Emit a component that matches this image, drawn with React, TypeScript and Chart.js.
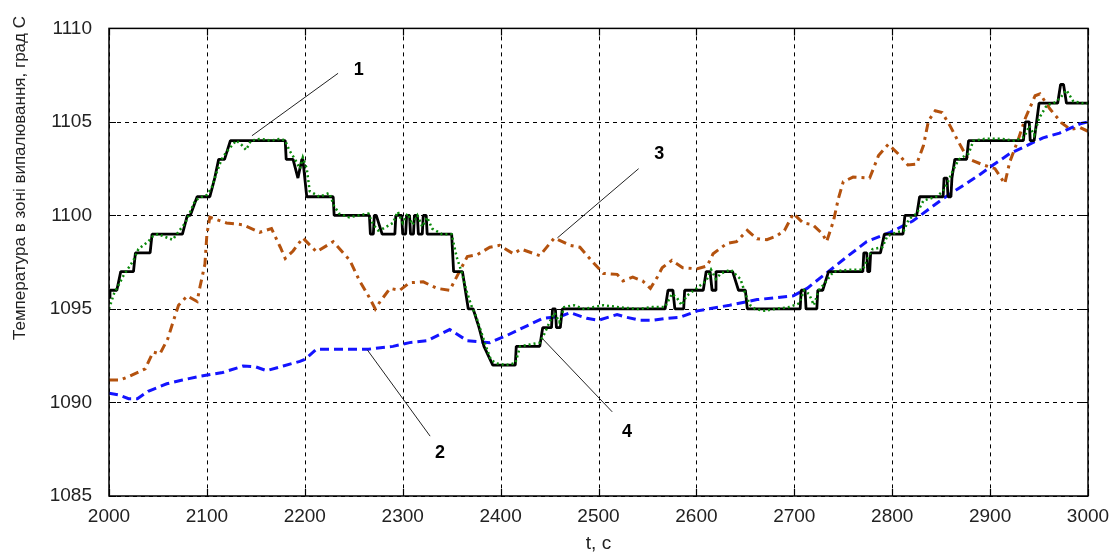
import React, { useEffect, useRef } from "react";
import { Chart, registerables } from "chart.js";

Chart.register(...registerables);

// Axis ranges / tick spacing
const xRange = [2000, 3000];
const yRange = [1085, 1110];
const xStep = 100;
const yStep = 5;

const xTitle = "t, c";
const yTitle = "Температура в зоні випалювання, град С";

// Series 1: black step line [t, value]
const series1: [number, number][] = [
  [2000, 1095.6], [2001, 1096], [2008, 1096], [2012, 1097], [2025, 1097], [2027, 1098], [2042, 1098],
  [2044, 1099], [2075, 1099], [2080, 1100], [2083, 1100], [2090, 1101], [2103, 1101], [2108, 1102],
  [2112, 1103], [2118, 1103], [2124, 1104], [2180, 1104], [2181, 1103], [2188, 1103], [2193, 1102],
  [2197, 1103], [2198, 1103], [2202, 1101], [2229, 1101], [2230, 1100], [2266, 1100], [2267, 1099],
  [2270, 1099], [2271, 1100], [2273, 1100], [2279, 1099], [2292, 1099], [2293, 1100], [2299, 1100],
  [2300, 1099], [2303, 1099], [2304, 1100], [2307, 1100], [2308, 1099], [2311, 1099], [2312, 1100],
  [2315, 1100], [2316, 1099], [2320, 1099], [2321, 1100], [2324, 1100], [2325, 1099], [2350, 1099],
  [2352, 1097], [2361, 1097], [2367, 1095], [2372, 1095], [2378, 1094], [2383, 1093], [2392, 1092],
  [2415, 1092], [2416, 1093], [2440, 1093], [2443, 1094], [2452, 1094], [2453, 1095], [2456, 1095],
  [2457, 1094], [2461, 1094], [2463, 1095], [2568, 1095], [2571, 1096], [2576, 1096], [2578, 1095],
  [2587, 1095], [2588, 1096], [2607, 1096], [2610, 1097], [2614, 1097], [2616, 1096], [2619, 1096],
  [2620, 1097], [2637, 1097], [2643, 1096], [2650, 1096], [2652, 1095], [2706, 1095], [2707, 1096],
  [2711, 1096], [2712, 1095], [2723, 1095], [2724, 1096], [2729, 1096], [2735, 1097], [2770, 1097],
  [2771, 1098], [2774, 1098], [2775, 1097], [2777, 1097], [2778, 1098], [2788, 1098], [2792, 1099],
  [2811, 1099], [2813, 1100], [2825, 1100], [2828, 1101], [2852, 1101], [2853, 1102], [2856, 1102],
  [2857, 1101], [2860, 1101], [2861, 1102], [2864, 1103], [2876, 1103], [2878, 1104], [2934, 1104],
  [2936, 1105], [2940, 1105], [2941, 1104], [2945, 1104], [2950, 1106], [2969, 1106], [2972, 1107],
  [2975, 1107], [2978, 1106], [3000, 1106],
];

// Series 2: blue dashed
const series2: [number, number][] = [
  [2000, 1090.5], [2010, 1090.4], [2020, 1090.2], [2029, 1090.2], [2040, 1090.6], [2059, 1091.0],
  [2075, 1091.2], [2093, 1091.4], [2116, 1091.6], [2137, 1091.95], [2150, 1091.9], [2161, 1091.7],
  [2178, 1091.95], [2195, 1092.2], [2200, 1092.3], [2212, 1092.85], [2240, 1092.85], [2265, 1092.85],
  [2290, 1093.0], [2307, 1093.2], [2325, 1093.3], [2348, 1093.9], [2366, 1093.3], [2389, 1093.2],
  [2407, 1093.6], [2427, 1094.1], [2443, 1094.5], [2461, 1094.6], [2471, 1094.8], [2488, 1094.5],
  [2500, 1094.4], [2519, 1094.7], [2529, 1094.55], [2542, 1094.4], [2556, 1094.4], [2570, 1094.5],
  [2583, 1094.55], [2601, 1094.9], [2634, 1095.2], [2662, 1095.5], [2699, 1095.7], [2713, 1096.1],
  [2736, 1097.05], [2754, 1097.8], [2774, 1098.6], [2798, 1099.1], [2821, 1099.7], [2852, 1100.9],
  [2890, 1102.2], [2903, 1102.7], [2920, 1103.3], [2938, 1103.75], [2954, 1104.15], [2971, 1104.4],
  [2992, 1104.9], [3000, 1105.0],
];

// Series 3: brown dash-dot
const series3: [number, number][] = [
  [2000, 1091.2], [2011, 1091.2], [2021, 1091.4], [2037, 1091.8], [2045, 1092.7], [2052, 1092.6],
  [2060, 1093.4], [2066, 1094.4], [2071, 1095.2], [2080, 1095.7], [2090, 1095.4], [2093, 1096.2],
  [2098, 1097.4], [2100, 1099.0], [2103, 1099.9], [2120, 1099.6], [2137, 1099.5], [2154, 1099.1],
  [2166, 1099.3], [2175, 1098.3], [2180, 1097.7], [2188, 1098.1], [2198, 1098.8], [2212, 1098.05],
  [2229, 1098.6], [2246, 1097.6], [2256, 1096.5], [2265, 1095.7], [2272, 1095.0], [2277, 1095.4],
  [2287, 1096.1], [2297, 1096.0], [2307, 1096.4], [2321, 1096.45], [2335, 1096.1], [2348, 1096.0],
  [2357, 1096.9], [2366, 1097.8], [2376, 1097.9], [2389, 1098.3], [2399, 1098.4], [2413, 1097.95],
  [2421, 1098.2], [2440, 1097.85], [2455, 1098.8], [2471, 1098.4], [2481, 1098.3], [2496, 1097.4],
  [2505, 1096.9], [2519, 1096.85], [2525, 1096.5], [2535, 1096.7], [2545, 1096.5], [2553, 1096.1],
  [2560, 1096.7], [2565, 1097.2], [2575, 1097.6], [2586, 1097.2], [2601, 1097.15], [2611, 1097.3],
  [2617, 1097.95], [2631, 1098.5], [2641, 1098.6], [2652, 1099.2], [2662, 1098.75], [2672, 1098.7],
  [2682, 1098.9], [2690, 1099.2], [2699, 1100.1], [2709, 1099.6], [2719, 1099.5], [2729, 1099.0],
  [2733, 1098.6], [2740, 1099.7], [2745, 1100.9], [2750, 1101.8], [2760, 1102.05], [2777, 1102.0],
  [2786, 1103.2], [2796, 1103.8], [2806, 1103.3], [2816, 1102.7], [2825, 1102.75], [2832, 1103.75],
  [2837, 1105.05], [2844, 1105.6], [2851, 1105.5], [2859, 1104.8], [2867, 1104.0], [2877, 1103.05],
  [2893, 1102.7], [2905, 1102.5], [2915, 1101.7], [2920, 1102.85], [2929, 1104.1], [2936, 1105.2],
  [2946, 1106.4], [2951, 1106.5], [2961, 1105.7], [2973, 1104.95], [2982, 1104.6], [2992, 1104.7],
  [3000, 1104.5],
];

// Series 4: green dotted
const series4: [number, number][] = [
  [2000, 1095], [2005, 1095.8], [2010, 1096.3], [2015, 1096.8], [2020, 1097.2], [2025, 1097.6],
  [2030, 1098.2], [2035, 1098.4], [2040, 1098.6], [2045, 1098.9], [2050, 1099], [2060, 1098.8],
  [2065, 1098.7], [2072, 1099.2], [2078, 1099.6], [2083, 1100.2], [2088, 1100.8], [2095, 1101],
  [2100, 1101.1], [2105, 1101.5], [2110, 1102.3], [2115, 1103], [2120, 1103.4], [2125, 1103.7],
  [2130, 1104], [2135, 1103.8], [2140, 1103.5], [2145, 1104], [2155, 1104.1], [2165, 1104],
  [2175, 1104.1], [2180, 1104], [2184, 1103.5], [2190, 1103], [2195, 1102.5], [2198, 1103.1],
  [2202, 1102.5], [2205, 1101.3], [2215, 1101], [2225, 1101.2], [2230, 1100.5], [2235, 1100.1],
  [2245, 1099.9], [2255, 1100], [2265, 1100.1], [2270, 1099.5], [2275, 1099.2], [2280, 1099.3],
  [2290, 1099.6], [2295, 1100.2], [2300, 1099.6], [2305, 1100.1], [2310, 1099.5], [2315, 1100],
  [2320, 1099.4], [2325, 1099.9], [2330, 1099.3], [2340, 1099], [2350, 1099], [2355, 1097.8],
  [2360, 1097], [2365, 1096], [2370, 1095.2], [2375, 1094.6], [2380, 1093.8], [2385, 1093],
  [2390, 1092.3], [2395, 1092.1], [2405, 1092], [2415, 1092.1], [2420, 1093], [2430, 1093.1],
  [2440, 1093.2], [2445, 1093.7], [2450, 1094.3], [2455, 1094.8], [2460, 1094.3], [2465, 1095.1],
  [2475, 1095.2], [2485, 1095], [2495, 1095.1], [2505, 1095.2], [2520, 1095.1], [2540, 1095],
  [2555, 1095.1], [2568, 1095.1], [2575, 1095.8], [2580, 1095.6], [2585, 1095.2], [2590, 1095.7],
  [2600, 1096.1], [2610, 1096.5], [2615, 1097.1], [2620, 1096.6], [2625, 1096.9], [2635, 1097.1],
  [2645, 1096.6], [2650, 1095.8], [2655, 1095.2], [2660, 1095], [2670, 1094.9], [2680, 1095],
  [2695, 1095.1], [2705, 1095.3], [2710, 1096], [2715, 1095.8], [2720, 1095.2], [2725, 1096],
  [2730, 1096.3], [2740, 1097], [2755, 1097.1], [2770, 1097.1], [2775, 1097.7], [2780, 1098.2],
  [2790, 1098.3], [2795, 1098.9], [2805, 1099.1], [2812, 1099.2], [2817, 1099.8], [2825, 1100.1],
  [2832, 1100.8], [2845, 1101], [2852, 1101.3], [2857, 1101.8], [2862, 1102.4], [2868, 1103],
  [2878, 1103.3], [2883, 1104], [2895, 1104.1], [2910, 1104.1], [2925, 1104], [2935, 1104.2],
  [2940, 1104.8], [2945, 1104.3], [2950, 1105.2], [2958, 1105.9], [2965, 1106], [2972, 1106.3],
  [2978, 1106.7], [2985, 1106.1], [2995, 1106], [3000, 1106],
];

// Callouts: label, leader line start (on curve), leader line end, label position (data coords)
const calloutLabels = ["1", "2", "3", "4"];
const calloutFrom: [number, number][] = [[2146, 1104.26], [2264, 1092.8], [2458, 1098.8], [2443, 1093.4]];
const calloutTo: [number, number][] = [[2234, 1107.6], [2328, 1088.2], [2541, 1102.5], [2514, 1089.5]];
const calloutText: [number, number][] = [[2255, 1107.8], [2338, 1087.3], [2562, 1103.3], [2529, 1088.4]];

const toPts = (arr: [number, number][]) => arr.map(([x, y]) => ({ x, y }));

const FONT = "'Liberation Sans', Arial, sans-serif";

const gridPlugin = {
  id: "dashgrid",
  beforeDatasetsDraw(chart: any) {
    const { ctx, chartArea: a, scales } = chart;
    ctx.save();
    ctx.strokeStyle = "#000";
    ctx.lineWidth = 1;
    ctx.setLineDash([4, 4]);
    scales.x.ticks.forEach((t: any) => {
      const px = Math.round(scales.x.getPixelForValue(t.value)) + 0.5;
      ctx.beginPath();
      ctx.moveTo(px, a.top);
      ctx.lineTo(px, a.bottom);
      ctx.stroke();
    });
    scales.y.ticks.forEach((t: any) => {
      const py = Math.round(scales.y.getPixelForValue(t.value)) + 0.5;
      ctx.beginPath();
      ctx.moveTo(a.left, py);
      ctx.lineTo(a.right, py);
      ctx.stroke();
    });
    ctx.restore();
  },
};

const framePlugin = {
  id: "frame",
  afterDatasetsDraw(chart: any) {
    const { ctx, chartArea: a, scales } = chart;
    const xs = scales.x;
    const ys = scales.y;
    ctx.save();
    // callouts
    ctx.strokeStyle = "#222";
    ctx.lineWidth = 1;
    ctx.fillStyle = "#000";
    ctx.font = `bold 18px ${FONT}`;
    ctx.textAlign = "center";
    ctx.textBaseline = "middle";
    calloutLabels.forEach((lab, i) => {
      ctx.beginPath();
      ctx.moveTo(xs.getPixelForValue(calloutFrom[i][0]), ys.getPixelForValue(calloutFrom[i][1]));
      ctx.lineTo(xs.getPixelForValue(calloutTo[i][0]), ys.getPixelForValue(calloutTo[i][1]));
      ctx.stroke();
      ctx.fillText(lab, xs.getPixelForValue(calloutText[i][0]), ys.getPixelForValue(calloutText[i][1]));
    });
    // frame
    ctx.strokeStyle = "#000";
    ctx.lineWidth = 1.5;
    ctx.setLineDash([]);
    ctx.strokeRect(a.left, a.top, a.right - a.left, a.bottom - a.top);
    // inside ticks
    ctx.lineWidth = 1.2;
    const tl = 7;
    xs.ticks.forEach((t: any) => {
      const px = Math.round(xs.getPixelForValue(t.value)) + 0.5;
      ctx.beginPath();
      ctx.moveTo(px, a.bottom);
      ctx.lineTo(px, a.bottom - tl);
      ctx.moveTo(px, a.top);
      ctx.lineTo(px, a.top + tl);
      ctx.stroke();
    });
    ys.ticks.forEach((t: any) => {
      const py = Math.round(ys.getPixelForValue(t.value)) + 0.5;
      ctx.beginPath();
      ctx.moveTo(a.left, py);
      ctx.lineTo(a.left + tl, py);
      ctx.moveTo(a.right, py);
      ctx.lineTo(a.right - tl, py);
      ctx.stroke();
    });
    // y title
    ctx.save();
    ctx.translate(20, 178);
    ctx.rotate(-Math.PI / 2);
    ctx.font = `17px ${FONT}`;
    ctx.fillStyle = "#222";
    ctx.textAlign = "center";
    ctx.textBaseline = "middle";
    ctx.fillText(yTitle, 0, 0);
    ctx.restore();
    ctx.restore();
  },
};

export default function App() {
  const ref = useRef<HTMLCanvasElement | null>(null);
  useEffect(() => {
    if (!ref.current) return;
    const chart = new Chart(ref.current, {
      type: "line",
      data: {
        datasets: [
          {
            label: "4",
            data: toPts(series4),
            borderColor: "#0b8a0b",
            borderWidth: 2.5,
            borderDash: [2, 3],
            pointRadius: 0,
            tension: 0,
            order: 0,
          },
          {
            label: "1",
            data: toPts(series1),
            borderColor: "#000000",
            borderWidth: 2.8,
            borderJoinStyle: "bevel",
            pointRadius: 0,
            tension: 0,
            order: 1,
          },
          {
            label: "2",
            data: toPts(series2),
            borderColor: "#1414ff",
            borderWidth: 3,
            borderDash: [9, 5],
            pointRadius: 0,
            tension: 0,
            order: 2,
          },
          {
            label: "3",
            data: toPts(series3),
            borderColor: "#b4520e",
            borderWidth: 3,
            borderDash: [9, 5, 3, 5],
            pointRadius: 0,
            tension: 0,
            order: 3,
          },
        ],
      },
      options: {
        animation: false,
        responsive: false,
        maintainAspectRatio: false,
        parsing: false as any,
        layout: { padding: { top: 21, right: 31, left: 0, bottom: 0 } },
        plugins: { legend: { display: false }, tooltip: { enabled: false }, title: { display: false } },
        scales: {
          x: {
            type: "linear",
            min: xRange[0],
            max: xRange[1],
            ticks: {
              stepSize: xStep,
              color: "#222",
              font: { family: FONT, size: 19 },
              padding: 9,
              maxRotation: 0,
              callback: (v: any) => String(v),
            },
            grid: { display: false, drawTicks: false },
            border: { display: false },
            title: {
              display: true,
              text: xTitle,
              color: "#222",
              font: { family: FONT, size: 19 },
              padding: { top: 0, bottom: 0 },
            },
            afterFit: (s: any) => {
              s.height = 59;
            },
          },
          y: {
            type: "linear",
            min: yRange[0],
            max: yRange[1],
            ticks: {
              stepSize: yStep,
              color: "#222",
              font: { family: FONT, size: 19 },
              padding: 17,
              callback: (v: any) => String(v),
            },
            grid: { display: false, drawTicks: false },
            border: { display: false },
            afterFit: (s: any) => {
              s.width = 109;
            },
          },
        },
      },
      plugins: [gridPlugin, framePlugin],
    });
    return () => chart.destroy();
  }, []);
  return (
    <div style={{ position: "fixed", left: 0, top: 0, width: 1119, height: 555, background: "#fff" }}>
      <canvas ref={ref} width={1119} height={555} style={{ display: "block" }} />
    </div>
  );
}
